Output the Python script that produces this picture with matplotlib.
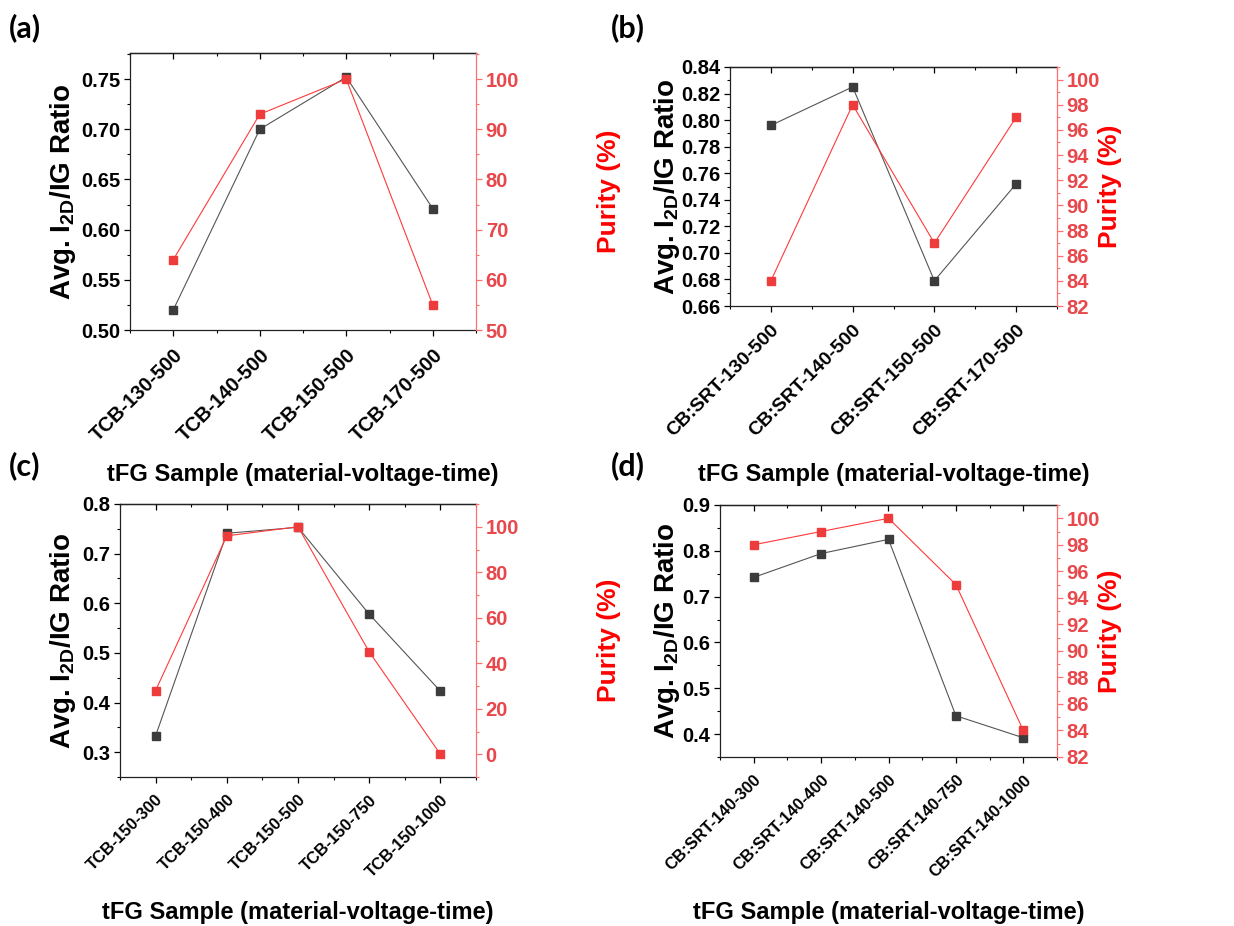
import matplotlib
matplotlib.use("Agg")
import matplotlib.pyplot as plt
from matplotlib.ticker import MultipleLocator, FormatStrFormatter, FixedLocator

plt.rcParams['font.family'] = ['Liberation Sans', 'DejaVu Sans']
plt.rcParams['font.weight'] = 'bold'
plt.rcParams['mathtext.fontset'] = 'custom'
plt.rcParams['mathtext.rm'] = 'Liberation Sans:bold'
plt.rcParams['mathtext.bf'] = 'Liberation Sans:bold'
plt.rcParams['mathtext.it'] = 'Liberation Sans:bold'

# ---- data ----
a_labels = ['TCB-130-500', 'TCB-140-500', 'TCB-150-500', 'TCB-170-500']
a_ratio = [0.520, 0.700, 0.752, 0.621]
a_purity = [64, 93, 100, 55]

b_labels = ['CB:SRT-130-500', 'CB:SRT-140-500', 'CB:SRT-150-500', 'CB:SRT-170-500']
b_ratio = [0.796, 0.825, 0.679, 0.752]
b_purity = [84, 98, 87, 97]

c_labels = ['TCB-150-300', 'TCB-150-400', 'TCB-150-500', 'TCB-150-750', 'TCB-150-1000']
c_ratio = [0.333, 0.741, 0.753, 0.578, 0.423]
c_purity = [28, 96, 100, 45, 0]

d_labels = ['CB:SRT-140-300', 'CB:SRT-140-400', 'CB:SRT-140-500', 'CB:SRT-140-750', 'CB:SRT-140-1000']
d_ratio = [0.742, 0.794, 0.825, 0.440, 0.392]
d_purity = [98, 99, 100, 95, 84]

W, H = 1234, 926
fig = plt.figure(figsize=(W / 100, H / 100), dpi=100)

RED_LABEL = '#FF0000'
RED_TICK = '#E8474B'
RED_SPINE = '#FF7070'
RED_LINE = '#FF3A3A'
RED_MARK = '#EE3B3B'
BLK_LINE = '#555555'
BLK_MARK = '#3C3C3C'


def px_rect(l, r, t, b):
    return [l / W, 1 - b / H, (r - l) / W, (b - t) / H]


def panel(rect_px, labels, ratio, purity, ylim, ymaj, ymin, yfmt,
          y2lim, y2min, y2ticks, xfs, letter, letter_xy,
          ylab_x, y2lab_x, xlab_y):
    l, r, t, b = rect_px
    ax = fig.add_axes(px_rect(l, r, t, b))
    ax2 = ax.twinx()
    x = list(range(len(labels)))
    ax.plot(x, ratio, '-s', color=BLK_LINE, lw=0.8, ms=5.5,
            mfc=BLK_MARK, mec=BLK_MARK, zorder=3)
    ax2.plot(x, purity, '-s', color=RED_LINE, lw=0.8, ms=5.5,
             mfc=RED_MARK, mec=RED_MARK, zorder=3)
    ax.set_xlim(-0.5, len(labels) - 0.5)
    ax.set_ylim(*ylim)
    ax2.set_ylim(*y2lim)

    ax.set_xticks(x)
    ax.set_xticklabels(labels, rotation=45, ha='right', rotation_mode='anchor',
                       fontsize=xfs, fontweight='bold')
    ax.xaxis.set_minor_locator(MultipleLocator(0.5))
    ax.yaxis.set_major_locator(MultipleLocator(ymaj))
    ax.yaxis.set_minor_locator(MultipleLocator(ymin))
    ax.yaxis.set_major_formatter(FormatStrFormatter(yfmt))
    ax.tick_params(axis='y', which='major', length=4, width=0.9, labelsize=14.5, pad=3)
    ax.tick_params(axis='y', which='minor', length=2.2, width=0.8)
    ax.tick_params(axis='x', which='major', length=4, width=0.9, pad=7)
    ax.tick_params(axis='x', which='minor', length=2.2, width=0.8)

    sec = ax.secondary_xaxis('top')
    sec.set_xticks(x)
    sec.xaxis.set_minor_locator(MultipleLocator(0.5))
    sec.tick_params(axis='x', which='major', direction='in', length=4, width=0.9,
                    labeltop=False)
    sec.tick_params(axis='x', which='minor', direction='in', length=2.2, width=0.8)
    sec.spines['top'].set_linewidth(0.9)

    ax2.yaxis.set_major_locator(FixedLocator(y2ticks))
    ax2.yaxis.set_minor_locator(MultipleLocator(y2min))
    ax2.tick_params(axis='y', which='major', length=4, width=0.9, labelsize=14.5,
                    colors=RED_SPINE, labelcolor=RED_TICK, pad=3)
    ax2.tick_params(axis='y', which='minor', length=2.2, width=0.8, colors=RED_SPINE)
    for s in ['left', 'top', 'bottom']:
        ax2.spines[s].set_visible(False)
    ax2.spines['right'].set_color(RED_SPINE)
    ax2.spines['right'].set_linewidth(0.9)
    ax.spines['right'].set_visible(False)
    for s in ['left', 'bottom', 'top']:
        ax.spines[s].set_linewidth(0.9)
        ax.spines[s].set_color('#222222')

    width = r - l
    height = b - t
    ax.set_ylabel(r'Avg. I$_{\mathrm{2D}}$/IG Ratio', fontsize=20,
                  fontweight='bold', va='center')
    ax.yaxis.set_label_coords((ylab_x - l) / width, 0.5)
    ax2.set_ylabel('Purity (%)', fontsize=19, fontweight='bold',
                   color=RED_LABEL, va='center', rotation=90)
    ax2.yaxis.set_label_coords((y2lab_x - l) / width, 0.5)
    ax.set_xlabel('tFG Sample (material-voltage-time)', fontsize=17,
                  fontweight='bold', va='center')
    ax.xaxis.set_label_coords(0.5, -(xlab_y - b) / height)

    fig.text(letter_xy[0] / W, 1 - letter_xy[1] / H, letter, fontsize=22,
             fontweight='bold', family=['Lato', 'DejaVu Sans'],
             ha='left', va='center')
    return ax, ax2


panel((130, 476, 53, 330), a_labels, a_ratio, a_purity,
      (0.50, 0.776), 0.05, 0.025, '%.2f',
      (50, 105.2), 5, [50, 60, 70, 80, 90, 100], 14.5,
      '(a)', (9, 28), 63, 609, 475)

panel((730, 1057, 67, 306), b_labels, b_ratio, b_purity,
      (0.66, 0.84), 0.02, 0.01, '%.2f',
      (82, 101), 1, list(range(82, 101, 2)), 14,
      '(b)', (611, 28), 667, 1110, 475)

panel((120, 476, 504, 777), c_labels, c_ratio, c_purity,
      (0.25, 0.80), 0.1, 0.05, '%.1f',
      (-10, 110), 10, [0, 20, 40, 60, 80, 100], 12,
      '(c)', (9, 466), 63, 609, 913)

panel((720, 1057, 505, 757), d_labels, d_ratio, d_purity,
      (0.35, 0.90), 0.1, 0.05, '%.1f',
      (82, 101), 1, list(range(82, 101, 2)), 12,
      '(d)', (611, 466), 667, 1110, 913)

fig.savefig('out.png', dpi=100)
